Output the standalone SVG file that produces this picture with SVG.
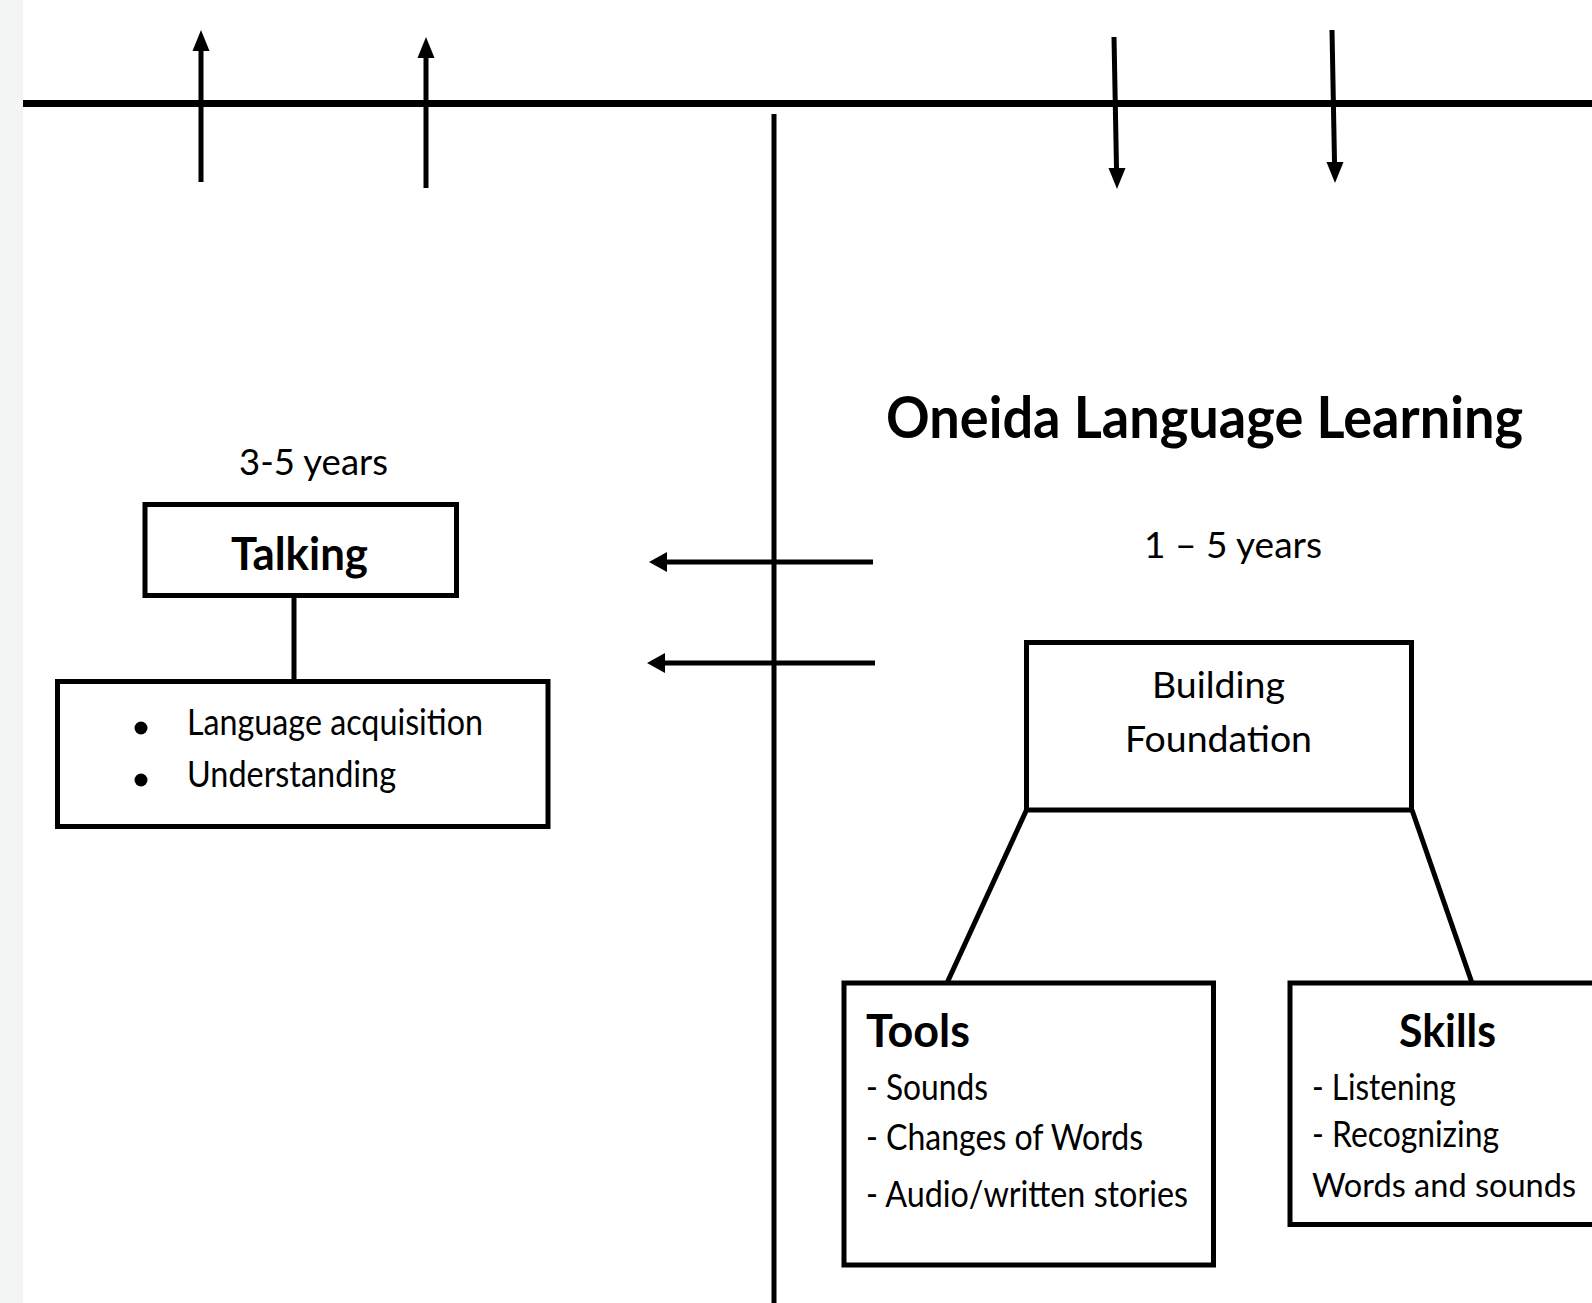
<svg xmlns="http://www.w3.org/2000/svg" width="1592" height="1303" viewBox="0 0 1592 1303">
<style>
  .ln { stroke: #000; stroke-width: 5; fill: none; }
  .box { stroke: #000; stroke-width: 5; fill: #fff; }
  .hd { fill: #000; stroke: none; }
  text { font-family: Lato, "Liberation Sans", sans-serif; fill: #000; }
  .t { font-size: 36px; }
  .b { font-size: 45px; font-weight: bold; }
</style>
<rect x="0" y="0" width="1592" height="1303" fill="#fff"/>
<rect x="0" y="0" width="23" height="1303" fill="#f3f4f4"/>

<g id="connectors">
  <line x1="23" y1="103.5" x2="1592" y2="103.5" stroke="#000" stroke-width="7"/>
  <line class="ln" x1="774" y1="114" x2="774" y2="1303"/>
  <!-- up arrows -->
  <line class="ln" x1="201" y1="182" x2="201" y2="46"/>
  <polygon class="hd" points="201,30 192.5,51 209.5,51"/>
  <line class="ln" x1="426" y1="188" x2="426" y2="53"/>
  <polygon class="hd" points="426,37 417.5,58 434.5,58"/>
  <!-- down arrows -->
  <line class="ln" x1="1114" y1="37" x2="1116.6" y2="173"/>
  <polygon class="hd" points="1117,189 1108.5,168 1125.5,168"/>
  <line class="ln" x1="1332" y1="30" x2="1334.6" y2="167"/>
  <polygon class="hd" points="1335,183 1326.5,162 1343.5,162"/>
  <!-- left arrows -->
  <line class="ln" x1="873" y1="562" x2="662" y2="562"/>
  <polygon class="hd" points="649,562 667,552 667,572"/>
  <line class="ln" x1="875" y1="663" x2="660" y2="663"/>
  <polygon class="hd" points="647,663 665,653 665,673"/>
  <!-- tree links -->
  <line class="ln" x1="294" y1="596" x2="294" y2="681"/>
  <line class="ln" x1="1026.5" y1="810" x2="947" y2="983"/>
  <line class="ln" x1="1412" y1="810" x2="1472" y2="983"/>
</g>

<g id="age-talking">
  <text class="t" x="239" y="475" textLength="149" lengthAdjust="spacingAndGlyphs">3-5 years</text>
</g>

<g id="talking">
  <rect class="box" x="145" y="504.5" width="311.5" height="91"/>
  <text class="b" x="231" y="570" textLength="137" lengthAdjust="spacingAndGlyphs">Talking</text>
</g>

<g id="talking-list">
  <rect class="box" x="57.5" y="681.5" width="490.5" height="145"/>
  <circle cx="141" cy="728" r="6.5" fill="#000"/>
  <circle cx="141" cy="780" r="6.5" fill="#000"/>
  <text class="t" x="187" y="735" textLength="296" lengthAdjust="spacingAndGlyphs">Language acquisition</text>
  <text class="t" x="187" y="787" textLength="209" lengthAdjust="spacingAndGlyphs">Understanding</text>
</g>

<g id="title">
  <text x="886" y="438" font-size="57" font-weight="bold" textLength="637" lengthAdjust="spacingAndGlyphs">Oneida Language Learning</text>
</g>

<g id="age-oneida">
  <text class="t" x="1144" y="558" textLength="178" lengthAdjust="spacingAndGlyphs">1 – 5 years</text>
</g>

<g id="building-foundation">
  <rect class="box" x="1026.5" y="642.5" width="385" height="167.5"/>
  <text class="t" x="1152" y="698" textLength="133" lengthAdjust="spacingAndGlyphs">Building</text>
  <text class="t" x="1125" y="752" textLength="187" lengthAdjust="spacingAndGlyphs">Foundation</text>
</g>

<g id="tools">
  <rect class="box" x="844" y="983" width="369.5" height="282"/>
  <text class="b" x="866" y="1047" textLength="104" lengthAdjust="spacingAndGlyphs">Tools</text>
  <text class="t" x="866" y="1100" textLength="122" lengthAdjust="spacingAndGlyphs">- Sounds</text>
  <text class="t" x="866" y="1150" textLength="277" lengthAdjust="spacingAndGlyphs">- Changes of Words</text>
  <text class="t" x="866" y="1207" textLength="322" lengthAdjust="spacingAndGlyphs">- Audio/written stories</text>
</g>

<g id="skills">
  <rect class="box" x="1290" y="983" width="320" height="241.5"/>
  <text class="b" x="1399" y="1047" textLength="97" lengthAdjust="spacingAndGlyphs">Skills</text>
  <text class="t" x="1312" y="1100" textLength="144" lengthAdjust="spacingAndGlyphs">- Listening</text>
  <text class="t" x="1312" y="1147" textLength="187" lengthAdjust="spacingAndGlyphs">- Recognizing</text>
  <text x="1312" y="1197" font-size="33" textLength="264" lengthAdjust="spacingAndGlyphs">Words and sounds</text>
</g>
</svg>
